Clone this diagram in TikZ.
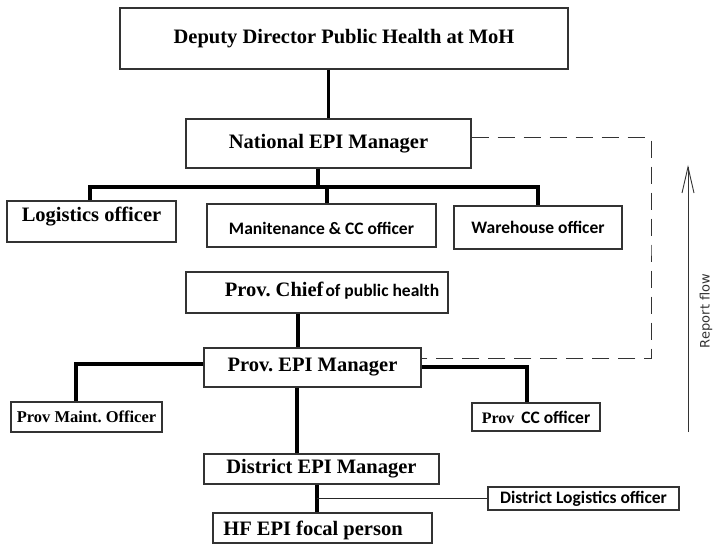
\documentclass[tikz,border=0pt]{standalone}
\usepackage{fontspec}
\setmainfont{Liberation Serif}
\newfontfamily\sansbold{Carlito}
\newfontfamily\flowfont{DejaVu Sans}
\usetikzlibrary{arrows.meta}
\frenchspacing

\tikzset{
  box/.style={draw=black!80, line width=1.2pt, inner sep=0pt, fill=white,
              font=\fontsize{20.5}{24}\selectfont\bfseries},
  sbox/.style={box, font=\fontsize{17.5}{21}\selectfont\sansbold\bfseries},
  conn/.style={draw=black, line width=3.2pt, line join=miter},
  thinconn/.style={draw=black!85, line width=1.2pt},
  report/.style={draw=black!80, line width=1pt, dash pattern=on 17pt off 9pt},
  flow/.style={draw=black!80, line width=0.9pt,
               -{Straight Barb[length=26pt, width=12pt, line width=0.9pt]}},
}

\begin{document}
\begin{tikzpicture}[x=1pt, y=-1pt]
  \useasboundingbox (0,0) rectangle (715,545);

  % national level
  \node[box, minimum width=448pt, minimum height=61pt] (dep) at (344,38.5)
    {Deputy Director Public Health at MoH};
  \node[box, minimum width=285pt, minimum height=49pt] (nat) at (328.5,143.5)
    {National EPI Manager};

  \node[box, minimum width=169pt, minimum height=41pt] (log) at (91.5,221.5)
    {\raisebox{5pt}[\height][\depth]{Logistics officer}};
  \node[sbox, minimum width=229pt, minimum height=43pt] (mnt) at (321.5,225.5)
    {\raisebox{-2.5pt}[\height][\depth]{Manitenance \& CC officer}};
  \node[sbox, minimum width=168pt, minimum height=43pt] (war) at (538,227.5)
    {Warehouse officer};

  % provincial level
  \node[box, minimum width=262pt, minimum height=41pt] (chief) at (317,292.5)
    {\hspace*{30pt}\raisebox{2pt}[\height][\depth]{Prov. Chief\hspace{2pt}{\sansbold\fontsize{17.5}{21}\selectfont of public health}}};
  \node[box, minimum width=217pt, minimum height=39pt] (pepi) at (312.5,367.5)
    {Prov. EPI Manager};
  \node[box, minimum width=151pt, minimum height=30pt,
        font=\fontsize{16.5}{20}\selectfont\bfseries] (pmaint) at (86.5,417)
    {Prov Maint. Officer};
  \node[box, minimum width=128pt, minimum height=28pt,
        font=\fontsize{16}{20}\selectfont\bfseries] (pcc) at (536,417)
    {Prov\hspace{7pt}{\sansbold\fontsize{17.5}{21}\selectfont CC officer}};

  % district level
  \node[box, minimum width=235pt, minimum height=30pt] (depi) at (321.5,469)
    {District EPI Manager};
  \node[sbox, minimum width=191pt, minimum height=23pt] (dlog) at (583.5,498.5)
    {District Logistics officer};
  \node[box, minimum width=219pt, minimum height=30pt] (hf) at (322.5,528)
    {\raisebox{-2pt}[\height][\depth]{HF EPI focal person}\hspace*{19pt}};

  % reporting lines
  \draw[conn] (dep.south -| nat.north) -- (nat.north);

  \coordinate (trunk) at (318,187);
  \coordinate (barL) at (90,187);
  \coordinate (barM) at (327,187);
  \coordinate (barR) at (538,187);
  \draw[conn] (nat.south -| trunk) -- (trunk);
  \draw[conn] (log.north -| barL) -- (barL) -- (barR) -- (war.north -| barR);
  \draw[conn] (barM) -- (mnt.north -| barM);

  \draw[conn] ([xshift=-19pt]chief.south) coordinate (cd) -- (cd |- pepi.north);
  \draw[conn] ([yshift=3.5pt]pepi.west) -| ([xshift=-10.5pt]pmaint.north);
  \draw[conn] ([yshift=0.5pt]pepi.east) -| ([xshift=-9pt]pcc.north);
  \draw[conn] ([xshift=-15.5pt]pepi.south) coordinate (pd) -- (pd |- depi.north);

  \draw[conn] ([xshift=-4.5pt]depi.south) coordinate (dd) -- (dd |- hf.north);
  \coordinate (dj) at ([yshift=-31pt]dd);
  \draw[thinconn] (dlog.west) -- (dlog.west -| dj);

  % report path back to the national manager
  \coordinate (dr) at (651,250);
  \draw[report] ([yshift=5.5pt]nat.east) -| (dr) |- ([yshift=8.5pt]pepi.east);

  % report flow direction
  \coordinate (rfb) at (688,432);
  \coordinate (rft) at (688,165);
  \draw[flow] (rfb) -- (rft);
  \node[rotate=90, text=black!80, font=\flowfont\fontsize{13}{15}\selectfont]
    (rflabel) at (706,311) {Report flow};
\end{tikzpicture}
\end{document}
